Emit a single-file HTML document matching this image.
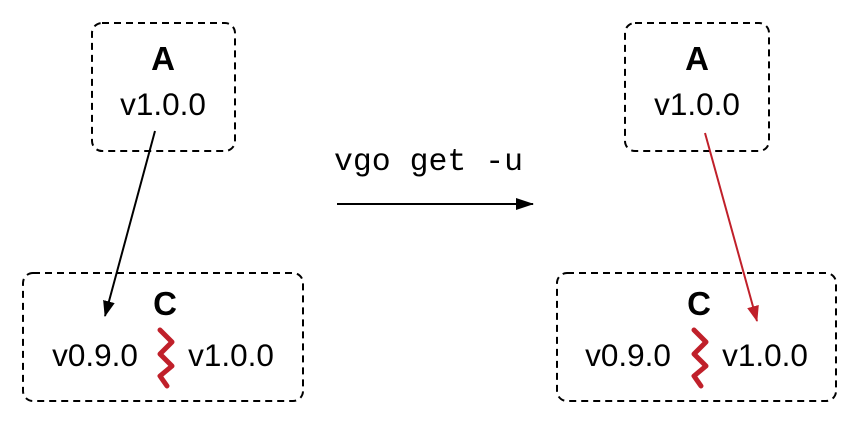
<!DOCTYPE html>
<html><head><style>body{margin:0;background:#fff}</style></head><body>
<svg width="860" height="424" viewBox="0 0 860 424" xmlns="http://www.w3.org/2000/svg" font-family="Liberation Sans, sans-serif">
<defs>
<marker id="ab" markerWidth="16" markerHeight="12" refX="15" refY="6" orient="auto" markerUnits="userSpaceOnUse" viewBox="0 0 16 12"><path d="M0,0 L16,6 L0,12 z" fill="#000"/></marker>
<marker id="ar" markerWidth="16" markerHeight="12" refX="15" refY="6" orient="auto" markerUnits="userSpaceOnUse" viewBox="0 0 16 12"><path d="M0,0 L16,6 L0,12 z" fill="#c0202a"/></marker>
<marker id="am" markerWidth="18" markerHeight="12" refX="17" refY="6" orient="auto" markerUnits="userSpaceOnUse" viewBox="0 0 18 12"><path d="M0,0 L18,6 L0,12 z" fill="#000"/></marker>
</defs>
<g fill="none" stroke="#000" stroke-width="2" stroke-dasharray="7,5">
<rect x="92" y="23" width="143" height="128" rx="10"/>
<rect x="23" y="273" width="280" height="128" rx="10"/>
<rect x="625" y="23" width="144" height="128" rx="10"/>
<rect x="557" y="273" width="279" height="128" rx="10"/>
</g>
<g font-size="31.5" text-anchor="middle">
<text x="163" y="70" font-weight="bold" font-size="33">A</text>
<text x="163" y="115">v1.0.0</text>
<text x="697" y="70" font-weight="bold" font-size="33">A</text>
<text x="697" y="115">v1.0.0</text>
<text x="165" y="315" font-weight="bold" font-size="33">C</text>
<text x="95" y="366">v0.9.0</text>
<text x="231" y="366">v1.0.0</text>
<text x="699" y="315" font-weight="bold" font-size="33">C</text>
<text x="628" y="366">v0.9.0</text>
<text x="765" y="366">v1.0.0</text>
</g>
<g fill="none" stroke="#c0202a" stroke-width="5" stroke-linecap="round" stroke-linejoin="round">
<polyline points="160,330 172,342 160,354 172,366 160,376 167,386"/>
<polyline points="694,330 706,342 694,354 706,366 694,376 701,386"/>
</g>
<line x1="155" y1="131" x2="105" y2="316" stroke="#000" stroke-width="2" marker-end="url(#ab)"/>
<line x1="705" y1="133" x2="757" y2="321" stroke="#c0202a" stroke-width="2" marker-end="url(#ar)"/>
<text x="334" y="170" font-family="Liberation Mono, monospace" font-size="31.5">vgo get -u</text>
<line x1="337" y1="204" x2="533" y2="204" stroke="#000" stroke-width="2" marker-end="url(#am)"/>
</svg>
</body></html>
